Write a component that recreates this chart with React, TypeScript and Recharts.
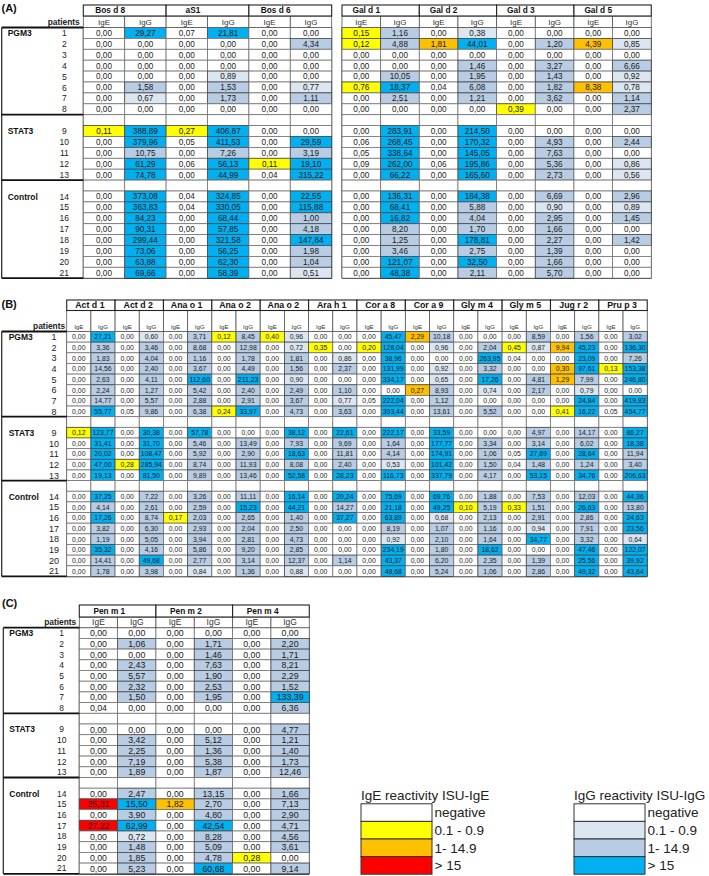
import React from 'react';
import { ScatterChart, Scatter, XAxis, YAxis, ReferenceLine } from 'recharts';

const SANS = '"Liberation Sans", Arial, Helvetica, sans-serif';
const NARROW = '"Liberation Sans Narrow", "Liberation Sans", Arial, sans-serif';

// ---------- data ----------
const groupNames = ['PGM3', 'STAT3', 'Control'];
const groupSizes = [8, 5, 8];
const patients = [1, 2, 3, 4, 5, 6, 7, 8, 9, 10, 11, 12, 13, 14, 15, 16, 17, 18, 19, 20, 21];
const isotypes = ['IgE', 'IgG'];

const allergensA1 = ['Bos d 8', 'aS1', 'Bos d 6'];
const valuesA1 = [
  [0, 29.27, 0.07, 21.81, 0, 0],
  [0, 0, 0, 0, 0, 4.34],
  [0, 0, 0, 0, 0, 0],
  [0, 0, 0, 0, 0, 0],
  [0, 0, 0, 0.89, 0, 0],
  [0, 1.58, 0, 1.53, 0, 0.77],
  [0, 0.67, 0, 1.73, 0, 1.11],
  [0, 0, 0, 0, 0, 0],
  [0.11, 388.89, 0.27, 406.87, 0, 0],
  [0, 379.96, 0.05, 411.53, 0, 29.59],
  [0, 10.75, 0, 7.26, 0, 3.19],
  [0, 61.29, 0.06, 56.13, 0.11, 19.1],
  [0, 74.78, 0, 44.99, 0.04, 315.22],
  [0, 373.08, 0.04, 324.85, 0, 22.55],
  [0, 363.83, 0.04, 330.05, 0, 115.88],
  [0, 84.23, 0, 68.44, 0, 1.0],
  [0, 90.31, 0, 57.85, 0, 4.18],
  [0, 299.44, 0, 321.58, 0, 147.84],
  [0, 73.06, 0, 56.25, 0, 1.98],
  [0, 63.88, 0, 62.3, 0, 1.04],
  [0, 69.66, 0, 58.39, 0, 0.51],
];

const allergensA2 = ['Gal d 1', 'Gal d 2', 'Gal d 3', 'Gal d 5'];
const valuesA2 = [
  [0.15, 1.16, 0, 0.38, 0, 0, 0, 0],
  [0.12, 4.88, 1.81, 44.01, 0, 1.2, 4.39, 0.85],
  [0, 0, 0, 0, 0, 0, 0, 0],
  [0, 0, 0, 1.46, 0, 3.27, 0, 6.66],
  [0, 10.05, 0, 1.95, 0, 1.43, 0, 0.92],
  [0.76, 18.37, 0.04, 6.08, 0, 1.82, 8.38, 0.78],
  [0, 2.51, 0, 1.21, 0, 3.62, 0, 1.14],
  [0, 0, 0, 0, 0.39, 0, 0, 2.37],
  [0, 283.91, 0, 214.5, 0, 0, 0, 0],
  [0.06, 268.45, 0, 170.32, 0, 4.93, 0, 2.44],
  [0.05, 338.64, 0, 145.05, 0, 7.63, 0, 0],
  [0.09, 262.0, 0.06, 195.86, 0, 5.36, 0, 0.86],
  [0, 66.22, 0, 165.6, 0, 2.73, 0, 0.56],
  [0, 136.31, 0, 184.38, 0, 6.69, 0, 2.96],
  [0, 68.41, 0, 5.88, 0, 0.9, 0, 0.89],
  [0, 16.82, 0, 4.04, 0, 2.95, 0, 1.45],
  [0, 8.2, 0, 1.7, 0, 1.66, 0, 0],
  [0, 1.25, 0, 178.81, 0, 2.27, 0, 1.42],
  [0, 3.46, 0, 2.75, 0, 1.39, 0, 0],
  [0, 121.07, 0, 32.5, 0, 1.66, 0, 0],
  [0, 48.38, 0, 2.11, 0, 5.7, 0, 0],
];

const allergensB = ['Act d 1', 'Act d 2', 'Ana o 1', 'Ana o 2', 'Ana o 2', 'Ara h 1', 'Cor a 8', 'Cor a 9', 'Gly m 4', 'Gly m 5', 'Jug r 2', 'Pru p 3'];
const valuesB = [
  [0, 27.21, 0, 0.6, 0, 3.71, 0.12, 8.45, 0.4, 0.96, 0, 0, 0, 45.47, 2.29, 10.18, 0, 0, 0, 8.59, 0, 1.56, 0, 3.02],
  [0, 3.36, 0, 3.46, 0, 8.68, 0, 12.98, 0, 0.72, 0.35, 0, 0.2, 128.04, 0, 0.96, 0, 2.04, 0.45, 0.87, 9.94, 45.23, 0, 136.3],
  [0, 1.83, 0, 4.04, 0, 1.16, 0, 1.78, 0, 1.81, 0, 0.86, 0, 38.96, 0, 0, 0, 263.95, 0.04, 0, 0, 23.09, 0, 7.26],
  [0, 14.56, 0, 2.4, 0, 3.67, 0, 4.49, 0, 1.56, 0, 2.37, 0, 131.99, 0, 0.92, 0, 3.32, 0, 0, 0.3, 97.61, 0.13, 153.38],
  [0, 2.63, 0, 4.11, 0, 112.6, 0, 211.23, 0, 0.9, 0, 0, 0, 334.17, 0, 0.65, 0, 17.26, 0, 4.81, 1.29, 7.99, 0, 246.8],
  [0, 2.24, 0, 1.27, 0, 5.42, 0, 2.4, 0, 2.49, 0, 1.1, 0, 0, 0.27, 8.93, 0, 0.74, 0, 2.17, 0, 0.79, 0, 0],
  [0, 14.77, 0, 5.57, 0, 2.88, 0, 2.91, 0, 3.67, 0, 0.77, 0.05, 222.04, 0, 1.12, 0, 0, 0, 0, 0, 24.84, 0, 419.83],
  [0, 55.77, 0.05, 9.86, 0, 6.38, 0.24, 33.97, 0, 4.73, 0, 3.63, 0, 393.44, 0, 13.61, 0, 5.52, 0, 0, 0.41, 16.22, 0.05, 454.77],
  [0.12, 123.77, 0, 30.38, 0, 57.78, 0, 0, 0, 38.12, 0, 22.61, 0, 222.17, 0, 33.59, 0, 0, 0, 4.97, 0, 14.17, 0, 86.27],
  [0, 31.41, 0, 31.7, 0, 5.46, 0, 13.49, 0, 7.93, 0, 9.69, 0, 1.64, 0, 177.77, 0, 3.34, 0, 3.14, 0, 6.02, 0, 18.38],
  [0, 20.02, 0, 108.47, 0, 5.92, 0, 2.9, 0, 18.63, 0, 11.81, 0, 4.14, 0, 174.91, 0, 1.06, 0.05, 27.69, 0, 28.64, 0, 11.94],
  [0, 47.0, 0.28, 285.94, 0, 8.74, 0, 11.93, 0, 8.08, 0, 2.4, 0, 0.53, 0, 101.42, 0, 1.5, 0.04, 1.48, 0, 1.24, 0, 3.4],
  [0, 19.13, 0, 81.5, 0, 9.89, 0, 13.46, 0, 52.58, 0, 28.23, 0, 116.73, 0, 337.79, 0, 4.17, 0, 53.15, 0, 34.76, 0, 206.63],
  [0, 37.25, 0, 7.22, 0, 3.26, 0, 11.11, 0, 16.14, 0, 20.24, 0, 75.69, 0, 69.76, 0, 1.88, 0, 7.53, 0, 12.03, 0, 44.36],
  [0, 4.14, 0, 2.61, 0, 2.59, 0, 15.23, 0, 44.21, 0, 14.27, 0, 21.18, 0, 49.25, 0.1, 5.19, 0.33, 1.51, 0, 26.63, 0, 13.8],
  [0, 17.26, 0, 8.74, 0.17, 2.03, 0, 2.65, 0, 1.4, 0, 37.27, 0, 63.89, 0, 0.68, 0, 2.13, 0, 2.91, 0, 2.86, 0, 24.63],
  [0, 3.82, 0, 6.3, 0, 2.93, 0, 2.04, 0, 2.5, 0, 0, 0, 8.19, 0, 1.07, 0, 1.16, 0, 0.94, 0, 7.91, 0, 23.56],
  [0, 1.19, 0, 5.05, 0, 3.94, 0, 2.81, 0, 4.73, 0, 0, 0, 0.92, 0, 2.1, 0, 1.64, 0, 34.77, 0, 3.32, 0, 0.64],
  [0, 35.32, 0, 4.16, 0, 5.86, 0, 9.2, 0, 2.85, 0, 0, 0, 234.19, 0, 1.8, 0, 18.62, 0, 0, 0, 47.46, 0, 122.07],
  [0, 14.41, 0, 49.68, 0, 2.77, 0, 3.14, 0, 12.37, 0, 1.14, 0, 43.37, 0, 6.2, 0, 2.35, 0, 1.39, 0, 25.56, 0, 39.92],
  [0, 1.78, 0, 3.98, 0, 0.84, 0, 1.36, 0, 0.88, 0, 0, 0, 48.68, 0, 5.24, 0, 1.06, 0, 2.86, 0, 49.32, 0, 43.64],
];
// cells shown orange in the picture although below 1 (patient number, column)
const orangeCellsB = [[4, 20], [6, 14]];

const allergensC = ['Pen m 1', 'Pen m 2', 'Pen m 4'];
const valuesC = [
  [0, 0, 0, 0, 0, 0],
  [0, 1.06, 0, 1.71, 0, 2.2],
  [0, 0, 0, 1.46, 0, 1.71],
  [0, 2.43, 0, 7.63, 0, 8.21],
  [0, 5.57, 0, 1.9, 0, 2.29],
  [0, 2.32, 0, 2.53, 0, 1.52],
  [0, 1.5, 0, 1.95, 0, 133.39],
  [0.04, 0, 0, 0, 0, 6.36],
  [0, 0, 0, 0, 0, 4.77],
  [0, 3.42, 0, 5.12, 0, 1.21],
  [0, 2.25, 0, 1.36, 0, 1.4],
  [0, 7.19, 0, 5.38, 0, 1.73],
  [0, 1.89, 0, 1.87, 0, 12.46],
  [0, 2.47, 0, 13.15, 0, 1.66],
  [25.31, 15.5, 1.82, 2.7, 0, 7.13],
  [0, 3.9, 0, 4.8, 0, 2.9],
  [27.22, 62.99, 0, 42.54, 0, 4.71],
  [0, 0.72, 0, 8.28, 0, 4.56],
  [0, 1.48, 0, 5.09, 0, 3.61],
  [0, 1.85, 0, 4.78, 0.28, 0],
  [0, 5.23, 0, 60.68, 0, 9.14],
];

const legendLabels = ['negative', '0.1 - 0.9', '1- 14.9', '> 15'];
const igeColors = ['#FFFFFF', '#FFFF00', '#FFC000', '#FF0000'];
const iggColors = ['#FFFFFF', '#DCE6F1', '#B8CCE4', '#00B0F0'];
const legendTitles = ['IgE reactivity ISU-IgE', 'IgG reactivity ISU-IgG'];

// ---------- helpers ----------
const fmt = (v: number) => v.toFixed(2).replace('.', ',');
const classify = (v: number) => (v < 0.1 ? 0 : v < 1 ? 1 : v < 15 ? 2 : 3);

const slots: (number | null)[] = [];
const groupStartSlot: number[] = [];
const groupEndSlot: number[] = [];
(() => {
  let p = 0;
  groupSizes.forEach((n, gi) => {
    groupStartSlot.push(slots.length);
    for (let i = 0; i < n; i++) slots.push(p++);
    groupEndSlot.push(slots.length - 1);
    if (gi < groupSizes.length - 1) slots.push(null);
  });
})();
const boundaries = [0, ...groupEndSlot.map((s) => s + 1)];

type Spec = {
  left: number; top: number; marginTop: number; marginLeft: number;
  allergens: string[]; values: number[][]; orange?: number[][];
  colW: number; rowH: number; nameH: number; isoH: number; labelW: number;
  borderX: number; numOffset: number; groupX: number; fontSize: number;
  nameFont: number; nameShift: number; isoFont: number; isoBottom: boolean;
  rowFont: number; patientsGap: number;
};

const Empty = () => <g />;

function HeatTable({ spec }: { spec: Spec }) {
  const ncols = spec.allergens.length * 2;
  const nrows = slots.length;
  const plotW = ncols * spec.colW;
  const plotH = nrows * spec.rowH;
  const width = spec.marginLeft + spec.labelW + plotW + 2;
  const height = spec.marginTop + spec.nameH + spec.isoH + plotH + 2;

  const cells: any[] = [];
  slots.forEach((pi, s) => {
    for (let c = 0; c < ncols; c++) {
      const v = pi === null ? null : spec.values[pi][c];
      const forced = pi !== null && (spec.orange || []).some(([p, cc]) => p === patients[pi] && cc === c);
      cells.push({ x: c + 0.5, y: s + 0.5, v, iso: c % 2, cls: v === null ? 0 : forced ? 2 : classify(v) });
    }
  });
  const isoTicks = Array.from({ length: ncols }, (_, i) => i + 0.5);
  const nameTicks = spec.allergens.map((_, i) => i * 2 + 1);
  const rowTicks = slots.map((p, s) => (p === null ? -1 : s + 0.5)).filter((t) => t >= 0);
  const isoAnchors = isoTicks.map((x) => ({ x, y: 0.5 }));
  const nameAnchors = nameTicks.map((x) => ({ x, y: 0.5 }));

  const CellShape = (p: any) => {
    const { cx, cy, payload } = p;
    const w = spec.colW, h = spec.rowH;
    const fill = payload.iso === 0 ? igeColors[payload.cls] : iggColors[payload.cls];
    return (
      <g>
        <rect x={cx - w / 2} y={cy - h / 2} width={w} height={h} fill={fill} stroke={payload.cls > 0 ? '#4a4a4a' : '#747474'} strokeWidth={0.8} />
        {payload.v !== null && (
          <text x={cx} y={cy} dy="0.36em" textAnchor="middle" fontSize={spec.fontSize} fontFamily={SANS} fill="#1a1a1a">
            {fmt(payload.v)}
          </text>
        )}
      </g>
    );
  };

  const IsoTick = (p: any) => {
    const { x, y, payload, index } = p;
    const iso = Math.floor(payload.value) % 2;
    const h = spec.isoH, w = spec.colW;
    const ty = spec.isoBottom ? y - 2.2 : y - h / 2;
    return (
      <g>
        <rect x={x - w / 2} y={y - h} width={w} height={h} fill="#fff" stroke="#555" strokeWidth={0.8} />
        <text x={x} y={ty} dy={spec.isoBottom ? 0 : '0.36em'} textAnchor="middle" fontSize={spec.isoFont} fontFamily={NARROW} fill="#333">
          {isotypes[iso]}
        </text>
        {index === 0 && spec.labelW > 0 && (
          <text x={x - w / 2 - spec.patientsGap} y={ty} dy={spec.isoBottom ? 0 : '0.36em'} textAnchor="end" fontSize={8.4} fontWeight="bold" fontFamily={SANS} fill="#222">
            patients
          </text>
        )}
      </g>
    );
  };

  const NameTick = (p: any) => {
    const { x, y, payload } = p;
    const h = spec.nameH, w = spec.colW;
    const i = Math.round((payload.value - 1) / 2);
    return (
      <g>
        <rect x={x - w} y={y - h} width={2 * w} height={h} fill="#fff" stroke="#222" strokeWidth={1.1} />
        <text x={x + spec.nameShift} y={y - h / 2} dy="0.36em" textAnchor="middle" fontSize={spec.nameFont} fontWeight="bold" fontFamily={SANS} fill="#111">
          {spec.allergens[i]}
        </text>
      </g>
    );
  };

  const RowTick = (p: any) => {
    const { x, y, payload } = p;
    const s = Math.round(payload.value - 0.5);
    const pi = slots[s] as number;
    const g = groupStartSlot.indexOf(s);
    const lx = x - spec.labelW + spec.borderX;
    const half = spec.rowH / 2;
    return (
      <g>
        <text x={x - spec.numOffset} y={y} dy="0.36em" textAnchor="middle" fontSize={spec.rowFont} fontFamily={SANS} fill="#222">
          {patients[pi]}
        </text>
        {g >= 0 && (
          <text x={lx + spec.groupX} y={y} dy="0.36em" textAnchor="start" fontSize={8.5} fontWeight="bold" fontFamily={SANS} fill="#111">
            {groupNames[g]}
          </text>
        )}
        {s === 0 && <line x1={lx} x2={x} y1={y - half} y2={y - half} stroke="#111" strokeWidth={1.8} />}
        {s === 0 && <line x1={lx} x2={lx} y1={y - half} y2={y - half + nrows * spec.rowH} stroke="#222" strokeWidth={1.2} />}
        {groupEndSlot.includes(s) && <line x1={lx} x2={x} y1={y + half} y2={y + half} stroke="#111" strokeWidth={1.8} />}
      </g>
    );
  };

  return (
    <div style={{ position: 'absolute', left: spec.left, top: spec.top }}>
      <ScatterChart width={width} height={height} margin={{ top: spec.marginTop, right: 2, bottom: 2, left: spec.marginLeft }}>
        <XAxis xAxisId="cells" type="number" dataKey="x" domain={[0, ncols]} hide />
        <XAxis xAxisId="iso" orientation="top" type="number" dataKey="x" domain={[0, ncols]} ticks={isoTicks} interval={0}
          height={spec.isoH} axisLine={false} tickLine={false} tickSize={0} tickMargin={0} tick={IsoTick} />
        <XAxis xAxisId="name" orientation="top" type="number" dataKey="x" domain={[0, ncols]} ticks={nameTicks} interval={0}
          height={spec.nameH} axisLine={false} tickLine={false} tickSize={0} tickMargin={0} tick={NameTick} />
        <YAxis yAxisId="cells" type="number" dataKey="y" domain={[0, nrows]} reversed width={spec.labelW} hide={spec.labelW === 0}
          ticks={rowTicks} interval={0} axisLine={false} tickLine={false} tickSize={0} tickMargin={0} tick={RowTick} />
        <Scatter xAxisId="iso" yAxisId="cells" data={isoAnchors} shape={Empty} isAnimationActive={false} />
        <Scatter xAxisId="name" yAxisId="cells" data={nameAnchors} shape={Empty} isAnimationActive={false} />
        <Scatter xAxisId="cells" yAxisId="cells" data={cells} shape={CellShape} isAnimationActive={false} />
        {boundaries.map((b) => (
          <ReferenceLine key={'b' + b} xAxisId="cells" yAxisId="cells" y={b} stroke="#111" strokeWidth={1.8} />
        ))}
        <ReferenceLine xAxisId="cells" yAxisId="cells" x={0} stroke="#333" strokeWidth={1.1} />
        <ReferenceLine xAxisId="cells" yAxisId="cells" x={ncols} stroke="#333" strokeWidth={1.1} />
      </ScatterChart>
    </div>
  );
}

const specA1: Spec = {
  left: 0, top: 0, marginTop: 5, marginLeft: 0, allergens: allergensA1, values: valuesA1,
  colW: 41.4, rowH: 10.9, nameH: 11, isoH: 11.5, labelW: 83.3, borderX: 1.7, numOffset: 19, groupX: 6,
  fontSize: 8.2, nameFont: 8.3, nameShift: -14.5, isoFont: 8, isoBottom: false, rowFont: 8.5, patientsGap: 3.5,
};
const specA2: Spec = {
  left: 340.4, top: 0, marginTop: 5, marginLeft: 2, allergens: allergensA2, values: valuesA2,
  colW: 38.66, rowH: 10.9, nameH: 11, isoH: 11.5, labelW: 0, borderX: 0, numOffset: 0, groupX: 0,
  fontSize: 8.2, nameFont: 8.3, nameShift: -14.4, isoFont: 8, isoBottom: false, rowFont: 8.5, patientsGap: 3.5,
};
const specB: Spec = {
  left: 0, top: 296.5, marginTop: 3, marginLeft: 0, allergens: allergensB, values: valuesB, orange: orangeCellsB,
  colW: 24.19, rowH: 10.65, nameH: 10.5, isoH: 21, labelW: 66.7, borderX: 1.7, numOffset: 12.7, groupX: 7,
  fontSize: 6.9, nameFont: 8.8, nameShift: -1, isoFont: 6.2, isoBottom: true, rowFont: 9, patientsGap: 1.5,
};
const specC: Spec = {
  left: 0, top: 602, marginTop: 3, marginLeft: 0, allergens: allergensC, values: valuesC,
  colW: 38.33, rowH: 10.7, nameH: 12, isoH: 10.7, labelW: 79.3, borderX: 3.3, numOffset: 17.6, groupX: 6,
  fontSize: 8.8, nameFont: 8.3, nameShift: -8.3, isoFont: 8.5, isoBottom: false, rowFont: 8.5, patientsGap: 3,
};

function LegendBlock({ x, title, colors }: { x: number; title: string; colors: string[] }) {
  const top = 803.8, bh = 17.6, bw = 71;
  return (
    <g>
      <text x={x} y={top - 3.5} fontSize={13.5} fontFamily={SANS} fill="#222">{title}</text>
      {colors.map((c, i) => (
        <g key={i}>
          <rect x={x} y={top + i * bh} width={bw} height={bh} fill={c} stroke="#333" strokeWidth={1} />
          <text x={x + bw + 2.5} y={top + i * bh + bh / 2} dy="0.36em" fontSize={13.5} fontFamily={SANS} fill="#222">
            {legendLabels[i]}
          </text>
        </g>
      ))}
    </g>
  );
}

export default function App() {
  return (
    <div style={{ position: 'absolute', left: 0, top: 0, width: 709, height: 876, background: '#fff', overflow: 'hidden' }}>
      <svg width={709} height={876} style={{ position: 'absolute', left: 0, top: 0 }}>
        <text x={1.5} y={11.8} fontSize={11} fontWeight="bold" fontFamily={SANS} fill="#111">(A)</text>
        <text x={1.5} y={307.5} fontSize={11} fontWeight="bold" fontFamily={SANS} fill="#111">(B)</text>
        <text x={2} y={606.5} fontSize={11} fontWeight="bold" fontFamily={SANS} fill="#111">(C)</text>
        <LegendBlock x={361} title={legendTitles[0]} colors={igeColors} />
        <LegendBlock x={574} title={legendTitles[1]} colors={iggColors} />
      </svg>
      <HeatTable spec={specA1} />
      <HeatTable spec={specA2} />
      <HeatTable spec={specB} />
      <HeatTable spec={specC} />
    </div>
  );
}
